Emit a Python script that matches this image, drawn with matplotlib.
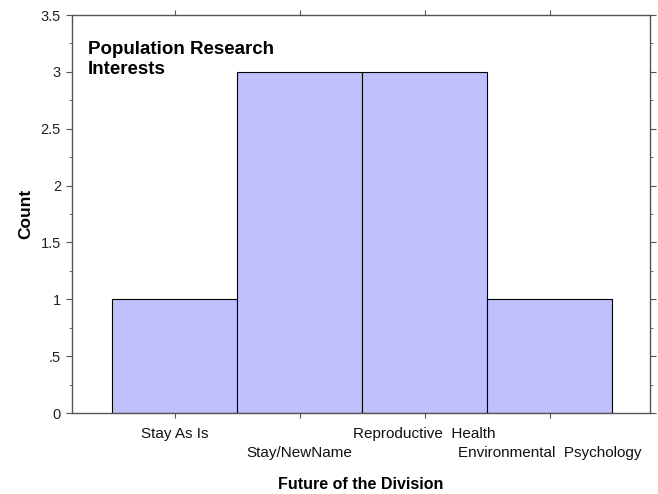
import matplotlib
matplotlib.use("Agg")
import matplotlib.pyplot as plt
from matplotlib.ticker import MultipleLocator
from matplotlib.transforms import offset_copy

plt.rcParams['font.family'] = ['Liberation Sans', 'DejaVu Sans']

categories = ["Stay As Is", "Stay/NewName", "Reproductive  Health", "Environmental  Psychology"]
counts = [1, 3, 3, 1]
y_ticks = [0, 0.5, 1, 1.5, 2, 2.5, 3, 3.5]
y_tick_labels = ["0", ".5", "1", "1.5", "2", "2.5", "3", "3.5"]

fig = plt.figure(figsize=(6.58, 4.94), dpi=100)
ax = fig.add_axes([72/658, 81/494, 578/658, 398/494])

pos = list(range(len(categories)))
ax.bar(pos, counts, width=1.0, color="#c0c0ff", edgecolor="black", linewidth=0.8)

ax.set_xlim(-0.82, 3.804)
ax.set_ylim(0, 3.5)

ax.set_yticks(y_ticks)
ax.set_yticklabels(y_tick_labels, fontsize=10.5, color="#222222")
ax.yaxis.set_minor_locator(MultipleLocator(0.25))

ax.set_xticks(pos)
ax.set_xticklabels([])

ax.tick_params(axis='both', which='both', direction='out', top=True, right=True,
               color="#555555")
ax.tick_params(axis='y', which='major', length=4, pad=4)
ax.tick_params(axis='y', which='minor', length=2.5)
ax.tick_params(axis='x', which='major', length=3.5)

# staggered category labels in two rows
xt = ax.get_xaxis_transform()
for i, c in enumerate(categories):
    dy = -15 if i % 2 == 0 else -29
    tr = offset_copy(xt, fig=fig, x=0, y=dy, units='points')
    ax.text(pos[i], 0, c, transform=tr, ha='center', va='center',
            fontsize=11, color="#111111")

for s in ax.spines.values():
    s.set_color("#555555")
    s.set_linewidth(1.0)

ax.set_ylabel("Count", fontsize=12.5, fontweight="bold", labelpad=5)
ax.text(0.5, 0, "Future of the Division",
        transform=offset_copy(ax.transAxes, fig=fig, x=0, y=-51.5, units='points'),
        ha='center', va='center', fontsize=11.5, fontweight='bold')

ax.text(0.027, 0.935, "Population Research\nInterests", transform=ax.transAxes,
        fontsize=13.5, fontweight="bold", va="top", ha="left", linespacing=1.25)

fig.savefig("out.png", dpi=100)
